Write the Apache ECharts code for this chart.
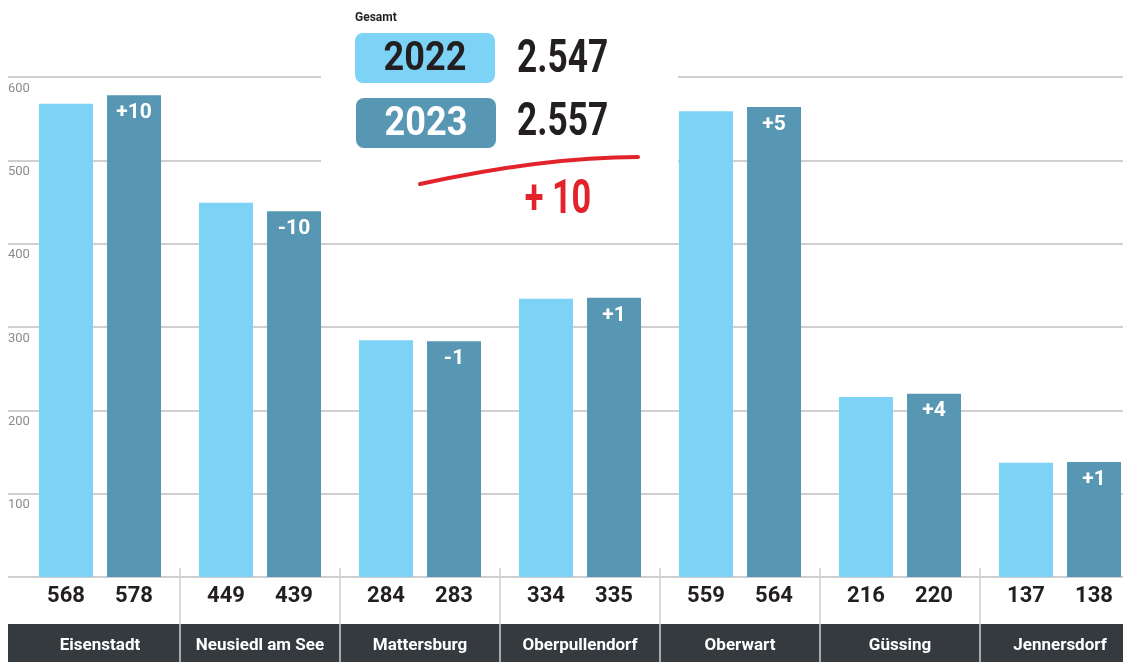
<!DOCTYPE html>
<html>
<head>
<meta charset="utf-8">
<script src="https://cdn.jsdelivr.net/npm/echarts@6/dist/echarts.min.js"></script>
<style>
html,body{margin:0;padding:0;background:#fff;}
#chart{width:1123px;height:662px;}
</style>
</head>
<body>
<div id="chart"></div>
<script>
// ---- data ----
const categories = ['Eisenstadt', 'Neusiedl am See', 'Mattersburg', 'Oberpullendorf', 'Oberwart', 'Güssing', 'Jennersdorf'];
const values2022 = [568, 449, 284, 334, 559, 216, 137];
const values2023 = [578, 439, 283, 335, 564, 220, 138];
const changes = ['+10', '-10', '-1', '+1', '+5', '+4', '+1'];
const yTicks = { min: 0, max: 600, interval: 100 };
const totalLabel = 'Gesamt';
const totals = [{ year: '2022', value: '2.547' }, { year: '2023', value: '2.557' }];
const totalChange = '+ 10';

const FONT = "Roboto, 'Liberation Sans', sans-serif";
const LIGHT = '#7dd3f5';
const DARK = '#5897b3';

const chart = echarts.init(document.getElementById('chart'));

const option = {
  animation: false,
  backgroundColor: '#fff',
  grid: [
    { left: 8, right: 0, top: 77, bottom: 85, outerBoundsMode: 'none', containLabel: false },
    { left: 20, width: 1120, top: 77, bottom: 85, outerBoundsMode: 'none', containLabel: false },
    { left: 20, width: 1120, top: 568, bottom: 0, outerBoundsMode: 'none', containLabel: false }
  ],
  xAxis: [
    { gridIndex: 0, type: 'category', data: categories, show: false },
    {
      gridIndex: 1, type: 'category', data: categories,
      axisLine: { show: false }, axisTick: { show: false }, splitLine: { show: false },
      axisLabel: {
        margin: 8,
        interval: 0,
        hideOverlap: false,
        formatter: (v, i) => '{a|' + values2022[i] + '}{b|' + values2023[i] + '}',
        rich: {
          a: { width: 68, align: 'center', fontFamily: FONT, fontWeight: 'bold', fontSize: 22, color: '#231f20' },
          b: { width: 68, align: 'center', fontFamily: FONT, fontWeight: 'bold', fontSize: 22, color: '#231f20' }
        }
      }
    },
    {
      gridIndex: 2, type: 'category', data: categories, position: 'bottom',
      axisLine: { show: false }, axisTick: { show: false },
      splitLine: { show: true, interval: (i) => i > 0, lineStyle: { color: '#cfcfcf', width: 1.5 } },
      axisLabel: {
        inside: true, margin: 8, interval: 0,
        color: '#ffffff', fontFamily: FONT, fontWeight: 'bold', fontSize: 17
      }
    }
  ],
  yAxis: [
    {
      gridIndex: 0, type: 'value', min: yTicks.min, max: yTicks.max, interval: yTicks.interval,
      axisLine: { show: false }, axisTick: { show: false },
      splitLine: { show: true, lineStyle: { color: '#cfcfcf', width: 2 } },
      axisLabel: {
        inside: true, margin: 0, verticalAlign: 'top', align: 'left',
        padding: [5, 0, 0, 0],
        color: '#8c8c8c', fontFamily: FONT, fontSize: 13,
        formatter: (v) => v === 0 ? '' : String(v)
      }
    },
    { gridIndex: 1, type: 'value', min: yTicks.min, max: yTicks.max, interval: yTicks.interval, show: false, splitLine: { show: false } },
    { gridIndex: 2, type: 'value', min: 0, max: 1, show: false, splitLine: { show: false } }
  ],
  series: [
    {
      name: '2022', type: 'bar', xAxisIndex: 1, yAxisIndex: 1,
      data: values2022, barWidth: 54, barGap: '26%',
      itemStyle: { color: LIGHT }, z: 5
    },
    {
      name: '2023', type: 'bar', xAxisIndex: 1, yAxisIndex: 1,
      data: values2023, barWidth: 54, barGap: '26%',
      itemStyle: { color: DARK }, z: 5,
      label: {
        show: true, position: 'insideTop', distance: 7,
        formatter: (p) => changes[p.dataIndex],
        color: '#ffffff', fontFamily: FONT, fontWeight: 'bold', fontSize: 21
      }
    }
  ],
  graphic: [
    { type: 'rect', z: -1, shape: { x: 8, y: 624, width: 1115, height: 38 }, style: { fill: '#353a3e' } },
    { type: 'rect', z: 1, shape: { x: 321, y: 0, width: 357, height: 240 }, style: { fill: '#ffffff' } },
    { type: 'text', z: 101, x: 355, y: 18, style: { x: 0, y: 0, text: totalLabel, fill: '#231f20', font: "bold 12px " + FONT, verticalAlign: 'middle' } },
    { type: 'rect', z: 101, shape: { x: 355, y: 33, width: 140, height: 50, r: 8 }, style: { fill: LIGHT } },
    { type: 'text', z: 102, x: 425, y: 60, scaleX: 0.88, style: { x: 0, y: 0, text: totals[0].year, fill: '#231f20', font: "bold 41px " + FONT, align: 'center', verticalAlign: 'middle' } },
    { type: 'rect', z: 101, shape: { x: 356, y: 98, width: 140, height: 50, r: 8 }, style: { fill: DARK } },
    { type: 'text', z: 102, x: 426, y: 125, scaleX: 0.88, style: { x: 0, y: 0, text: totals[1].year, fill: '#ffffff', font: "bold 41px " + FONT, align: 'center', verticalAlign: 'middle' } },
    { type: 'text', z: 102, x: 517, y: 60, scaleX: 0.75, style: { x: 0, y: 0, text: totals[0].value, fill: '#231f20', font: "bold 47px " + FONT, align: 'left', verticalAlign: 'middle' } },
    { type: 'text', z: 102, x: 517, y: 123, scaleX: 0.75, style: { x: 0, y: 0, text: totals[1].value, fill: '#231f20', font: "bold 47px " + FONT, align: 'left', verticalAlign: 'middle' } },
    { type: 'bezierCurve', z: 102, shape: { x1: 420, y1: 184, x2: 638, y2: 157, cpx1: 545, cpy1: 157 }, style: { stroke: '#e3232b', lineWidth: 4, lineCap: 'round', fill: null } },
    { type: 'text', z: 102, x: 558, y: 201, scaleX: 0.7, style: { x: 0, y: 0, text: totalChange, fill: '#e3232b', font: "bold 49px " + FONT, align: 'center', verticalAlign: 'middle' } }
  ]
};

chart.setOption(option);
</script>
</body>
</html>
